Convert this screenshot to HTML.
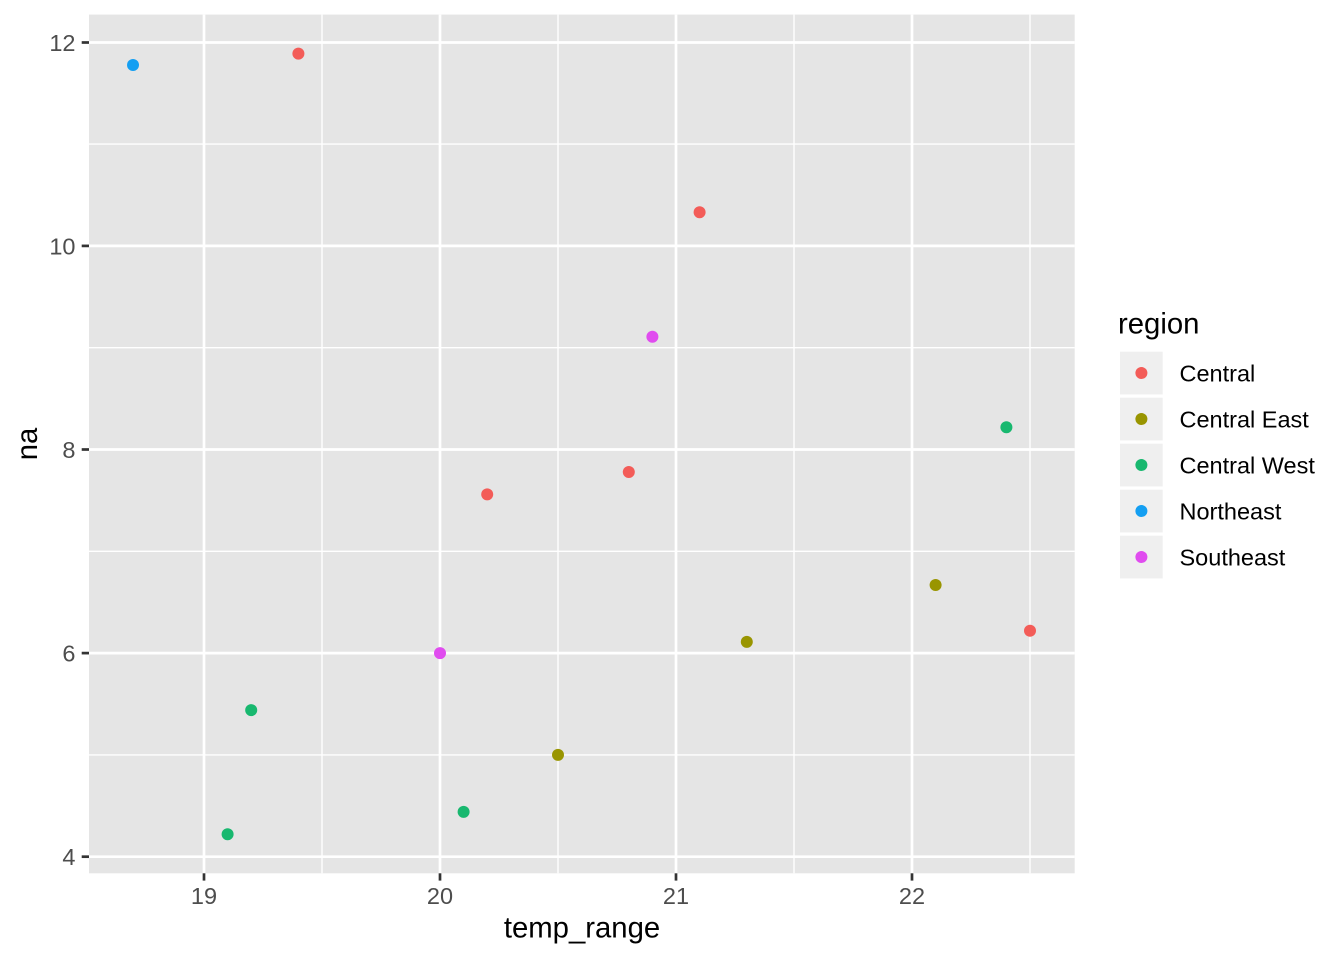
<!DOCTYPE html>
<html>
<head>
<meta charset="utf-8">
<style>
  html, body { margin: 0; padding: 0; background: #ffffff; }
  svg { display: block; }
  text { font-family: "Liberation Sans", Arial, sans-serif; }
</style>
</head>
<body>
<svg width="1344" height="960" viewBox="0 0 1344 960" xmlns="http://www.w3.org/2000/svg">
  <rect x="0" y="0" width="1344" height="960" fill="#ffffff"/>
  <!-- panel -->
  <rect x="89" y="14.6" width="985.7" height="858.7" fill="#E5E5E5"/>
  <!-- minor grid -->
  <g stroke="#ffffff" stroke-width="1.4">
    <line x1="89" x2="1074.7" y1="754.9" y2="754.9"/>
    <line x1="89" x2="1074.7" y1="551.3" y2="551.3"/>
    <line x1="89" x2="1074.7" y1="347.7" y2="347.7"/>
    <line x1="89" x2="1074.7" y1="144.1" y2="144.1"/>
    <line x1="322" x2="322" y1="14.6" y2="873.3"/>
    <line x1="558" x2="558" y1="14.6" y2="873.3"/>
    <line x1="794" x2="794" y1="14.6" y2="873.3"/>
    <line x1="1030" x2="1030" y1="14.6" y2="873.3"/>
  </g>
  <!-- major grid -->
  <g stroke="#ffffff" stroke-width="2.7">
    <line x1="89" x2="1074.7" y1="856.7" y2="856.7"/>
    <line x1="89" x2="1074.7" y1="653.1" y2="653.1"/>
    <line x1="89" x2="1074.7" y1="449.5" y2="449.5"/>
    <line x1="89" x2="1074.7" y1="245.9" y2="245.9"/>
    <line x1="89" x2="1074.7" y1="42.5" y2="42.5"/>
    <line x1="204" x2="204" y1="14.6" y2="873.3"/>
    <line x1="440" x2="440" y1="14.6" y2="873.3"/>
    <line x1="676" x2="676" y1="14.6" y2="873.3"/>
    <line x1="912" x2="912" y1="14.6" y2="873.3"/>
  </g>
  <!-- points -->
  <g>
    <circle cx="133" cy="65" r="6" fill="#149FF2"/>
    <circle cx="298.4" cy="53.6" r="6" fill="#F35C58"/>
    <circle cx="699.6" cy="212.2" r="6" fill="#F35C58"/>
    <circle cx="652.4" cy="336.7" r="6" fill="#E04CEF"/>
    <circle cx="1006.4" cy="427.2" r="6" fill="#18B86F"/>
    <circle cx="628.8" cy="472" r="6" fill="#F35C58"/>
    <circle cx="487.2" cy="494.4" r="6" fill="#F35C58"/>
    <circle cx="935.6" cy="585" r="6" fill="#999500"/>
    <circle cx="1030" cy="630.7" r="6" fill="#F35C58"/>
    <circle cx="746.8" cy="641.9" r="6" fill="#999500"/>
    <circle cx="440" cy="653.1" r="6" fill="#E04CEF"/>
    <circle cx="251.2" cy="710.1" r="6" fill="#18B86F"/>
    <circle cx="558" cy="754.9" r="6" fill="#999500"/>
    <circle cx="463.6" cy="811.9" r="6" fill="#18B86F"/>
    <circle cx="227.6" cy="834.3" r="6" fill="#18B86F"/>
  </g>
  <!-- ticks -->
  <g stroke="#333333" stroke-width="2.7">
    <line x1="81.7" x2="89" y1="856.7" y2="856.7"/>
    <line x1="81.7" x2="89" y1="653.1" y2="653.1"/>
    <line x1="81.7" x2="89" y1="449.5" y2="449.5"/>
    <line x1="81.7" x2="89" y1="245.9" y2="245.9"/>
    <line x1="81.7" x2="89" y1="42.5" y2="42.5"/>
    <line x1="204" x2="204" y1="873.3" y2="880.6"/>
    <line x1="440" x2="440" y1="873.3" y2="880.6"/>
    <line x1="676" x2="676" y1="873.3" y2="880.6"/>
    <line x1="912" x2="912" y1="873.3" y2="880.6"/>
  </g>
  <g fill="#4D4D4D" font-size="23.5" text-anchor="end">
    <text x="75.5" y="865.1">4</text>
    <text x="75.5" y="661.5">6</text>
    <text x="75.5" y="457.9">8</text>
    <text x="75.5" y="254.3">10</text>
    <text x="75.5" y="50.9">12</text>
  </g>
  <g fill="#4D4D4D" font-size="23.5" text-anchor="middle">
    <text x="204" y="904">19</text>
    <text x="440" y="904">20</text>
    <text x="676" y="904">21</text>
    <text x="912" y="904">22</text>
  </g>
  <!-- axis titles -->
  <text x="582" y="937.5" font-size="29.3" text-anchor="middle" fill="#000000">temp_range</text>
  <text transform="translate(37,444) rotate(-90)" font-size="29.3" text-anchor="middle" fill="#000000">na</text>
  <!-- legend -->
  <text x="1118" y="333.3" font-size="29.3" fill="#000000">region</text>
  <g fill="#EFEFEF">
    <rect x="1120" y="351.7" width="42.7" height="42.7"/>
    <rect x="1120" y="397.7" width="42.7" height="42.7"/>
    <rect x="1120" y="443.7" width="42.7" height="42.7"/>
    <rect x="1120" y="489.7" width="42.7" height="42.7"/>
    <rect x="1120" y="535.7" width="42.7" height="42.7"/>
  </g>
  <circle cx="1141.4" cy="373" r="6" fill="#F35C58"/>
  <circle cx="1141.4" cy="419" r="6" fill="#999500"/>
  <circle cx="1141.4" cy="465" r="6" fill="#18B86F"/>
  <circle cx="1141.4" cy="511" r="6" fill="#149FF2"/>
  <circle cx="1141.4" cy="557" r="6" fill="#E04CEF"/>
  <g fill="#000000" font-size="23.5">
    <text x="1179.5" y="381.5">Central</text>
    <text x="1179.5" y="427.5">Central East</text>
    <text x="1179.5" y="473.5">Central West</text>
    <text x="1179.5" y="519.5">Northeast</text>
    <text x="1179.5" y="565.5">Southeast</text>
  </g>
</svg>
</body>
</html>
